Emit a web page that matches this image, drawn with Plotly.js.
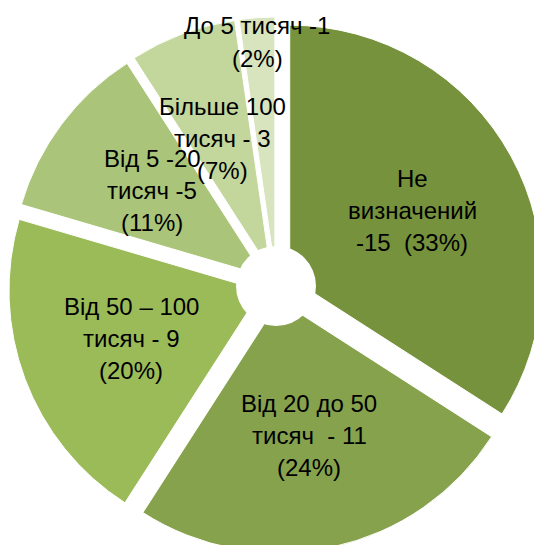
<!DOCTYPE html>
<html><head><meta charset="utf-8">
<script src="https://cdn.plot.ly/plotly-3.0.1.min.js"></script>
<style>html,body{margin:0;padding:0;overflow:hidden;background:#fff}#chart{width:560px;height:560px}</style>
</head><body><div id="chart"></div>
<script>
// ---- data ----
const categories = ["Не визначений", "Від 20 до 50 тисяч", "Від 50 – 100 тисяч", "Від 5 -20 тисяч", "Більше 100 тисяч", "До 5 тисяч"];
const values = [15, 11, 9, 5, 3, 1];
const percentLabels = ["33%", "24%", "20%", "11%", "7%", "2%"];
const dataLabels = [
  "Не\nвизначений\n-15  (33%)",
  "Від 20 до 50\nтисяч  - 11\n(24%)",
  "Від 50 – 100\nтисяч - 9\n(20%)",
  "Від 5 -20\nтисяч -5\n(11%)",
  "Більше 100\nтисяч - 3\n(7%)",
  "До 5 тисяч -1\n(2%)"
];

// ---- styling / layout ----
const colors = ["#76923C", "#86A24D", "#9BBB59", "#AAC579", "#C3D69B", "#D7E4BD"];
const W = 560, H = 560, ML = 8, MT = 17, PS = 536;
const px = x => (x - ML) / PS;
const py = y => 1 - (y - MT) / PS;
const labelPos = [[412, 178], [309, 403], [131, 306], [152, 158], [222, 106], [257, 26]];
const lineGap = 32.3;

const annotations = [];
dataLabels.forEach((lbl, i) => {
  lbl.split("\n").forEach((line, j) => {
    annotations.push({
      xref: "paper", yref: "paper",
      x: px(labelPos[i][0]), y: py(labelPos[i][1] + j * lineGap),
      text: line, showarrow: false, xanchor: "center", yanchor: "middle",
      font: {family: "Liberation Sans, Arial, sans-serif", size: 24, color: "#000"}
    });
  });
});

const trace = {
  type: "pie",
  labels: categories,
  values: values,
  sort: false,
  direction: "clockwise",
  rotation: 0,
  pull: values.map(() => 0.062),
  textinfo: "none",
  hoverinfo: "label+value",
  marker: {colors: colors, line: {color: "#ffffff", width: 1}},
  showlegend: false
};

const cx = 276, cy = 286, hr = 40;
const layout = {
  width: W, height: H,
  margin: {l: ML, t: MT, r: W - ML - PS, b: H - MT - PS},
  paper_bgcolor: "#ffffff",
  showlegend: false,
  annotations: annotations,
  shapes: [{
    type: "circle", xref: "paper", yref: "paper", layer: "above",
    x0: px(cx - hr), x1: px(cx + hr), y0: py(cy + hr), y1: py(cy - hr),
    fillcolor: "#ffffff", line: {width: 0}
  }]
};

Plotly.newPlot("chart", [trace], layout, {displayModeBar: false, staticPlot: true});
</script>
</body></html>
